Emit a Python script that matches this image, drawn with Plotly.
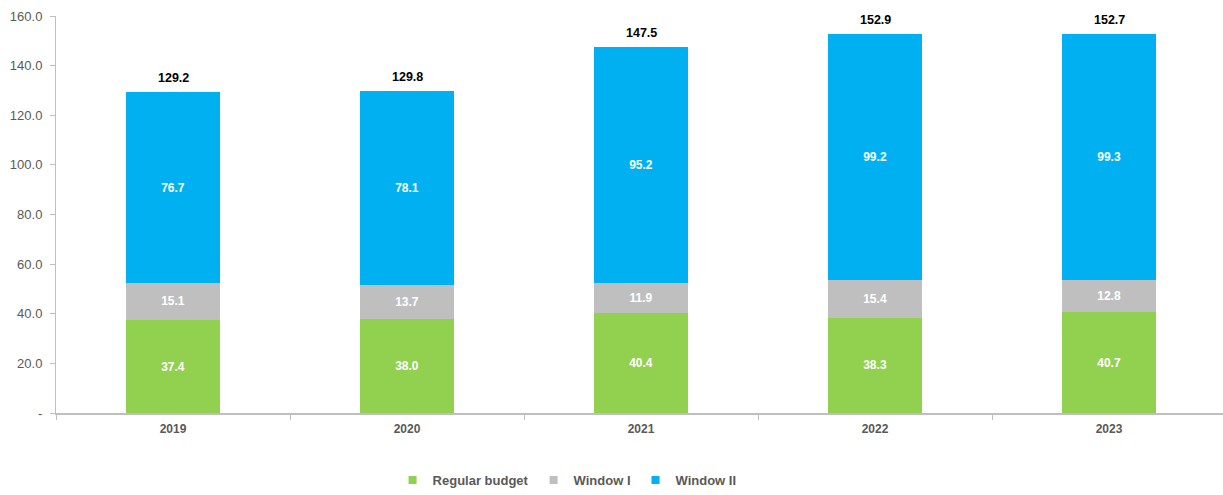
import plotly.graph_objects as go

years = ["2019", "2020", "2021", "2022", "2023"]
regular_budget = [37.4, 38.0, 40.4, 38.3, 40.7]
window_1 = [15.1, 13.7, 11.9, 15.4, 12.8]
window_2 = [76.7, 78.1, 95.2, 99.2, 99.3]
totals = [129.2, 129.8, 147.5, 152.9, 152.7]

y_ticks = [0, 20, 40, 60, 80, 100, 120, 140, 160]
y_tick_text = ["-", "20.0", "40.0", "60.0", "80.0", "100.0", "120.0", "140.0", "160.0"]

FONT = "Liberation Sans, Arial, sans-serif"
TICK_GRAY = "#595959"
AXIS_GRAY = "#BFBFBF"

series = [
    ("Regular budget", regular_budget, "#92D050"),
    ("Window I", window_1, "#BFBFBF"),
    ("Window II", window_2, "#00B0F0"),
]

fig = go.Figure()
for name, values, color in series:
    fig.add_trace(go.Bar(
        x=years,
        y=values,
        name=name,
        showlegend=False,
        marker=dict(color=color, line=dict(width=0)),
        width=0.4,
        text=[f"<b>{v:.1f}</b>" for v in values],
        textposition="inside",
        insidetextanchor="middle",
        textangle=0,
        textfont=dict(family=FONT, size=12, color="white"),
        cliponaxis=False,
    ))

# Legend entries with small square swatches
for name, _, color in series:
    fig.add_trace(go.Scatter(
        x=[None], y=[None], mode="markers", name=name,
        marker=dict(symbol="square", size=8, color=color),
        showlegend=True,
    ))

# Stack totals shown above each column (x given as category index)
for i, tot in enumerate(totals):
    fig.add_annotation(
        x=i, y=tot, text=f"<b>{tot:.1f}</b>",
        showarrow=False, yanchor="bottom", yshift=5,
        font=dict(family=FONT, size=12.5, color="#000000"),
    )

fig.update_layout(
    width=1223,
    height=495,
    barmode="stack",
    plot_bgcolor="white",
    paper_bgcolor="white",
    margin=dict(l=56, r=0, t=16, b=82),
    font=dict(family=FONT, size=12, color=TICK_GRAY),
    uniformtext=dict(minsize=12, mode="show"),
    legend=dict(
        orientation="h",
        xref="container", yref="container",
        x=0.321, xanchor="left",
        y=-0.01, yanchor="bottom",
        font=dict(family=FONT, size=13, color=TICK_GRAY, weight="bold"),
        itemwidth=30,
        traceorder="normal",
    ),
    xaxis=dict(
        type="category",
        range=[-0.5, 4.487],
        showline=True,
        linecolor=AXIS_GRAY,
        linewidth=1.5,
        ticks="outside",
        tickson="boundaries",
        ticklen=5,
        tickcolor=AXIS_GRAY,
        tickfont=dict(family=FONT, size=12, color=TICK_GRAY, weight="bold"),
        ticklabelstandoff=4,
        showgrid=False,
    ),
    yaxis=dict(
        range=[0, 160],
        tickvals=y_ticks,
        ticktext=y_tick_text,
        showline=True,
        linecolor=AXIS_GRAY,
        linewidth=1,
        ticks="outside",
        ticklen=5,
        tickcolor=AXIS_GRAY,
        tickfont=dict(family=FONT, size=13, color=TICK_GRAY),
        ticklabelstandoff=5,
        showgrid=False,
        zeroline=False,
    ),
)

fig.write_html("out.html")
